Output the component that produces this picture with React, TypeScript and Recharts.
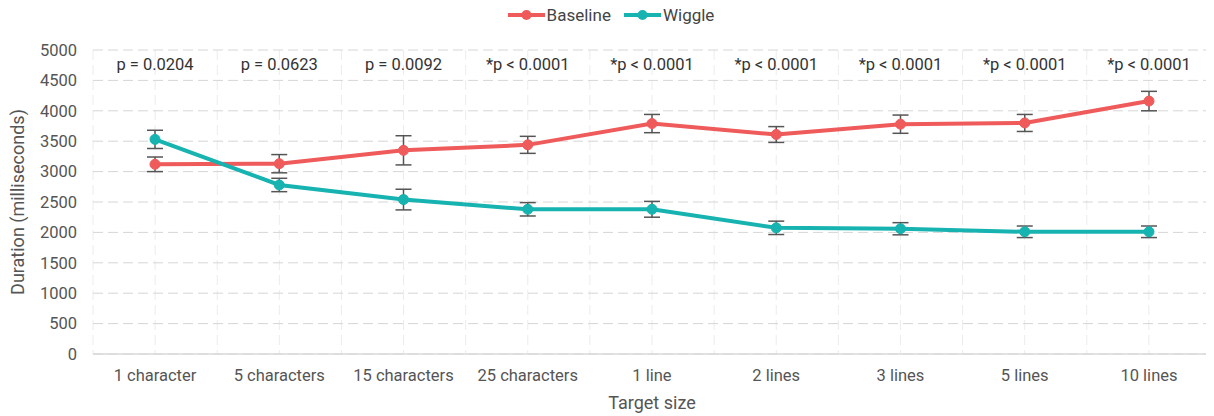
import React from 'react';
import { LineChart, Line, XAxis, YAxis, CartesianGrid, ErrorBar, Legend } from 'recharts';

const categories = ['1 character', '5 characters', '15 characters', '25 characters', '1 line', '2 lines', '3 lines', '5 lines', '10 lines'];
const baseline = [3120, 3130, 3350, 3440, 3790, 3610, 3780, 3800, 4160];
const baselineErr = [120, 150, 240, 140, 150, 130, 150, 140, 160];
const wiggle = [3530, 2780, 2540, 2380, 2380, 2075, 2060, 2010, 2010];
const wiggleErr = [150, 110, 170, 110, 130, 110, 100, 95, 95];
const pValues = ['p = 0.0204', 'p = 0.0623', 'p = 0.0092', '*p < 0.0001', '*p < 0.0001', '*p < 0.0001', '*p < 0.0001', '*p < 0.0001', '*p < 0.0001'];
const yTicks = [0, 500, 1000, 1500, 2000, 2500, 3000, 3500, 4000, 4500, 5000];

const RED = '#EF5A5A';
const TEAL = '#16B3B1';

const data = categories.map((c, i) => ({
  category: c,
  pValue: pValues[i],
  baseline: baseline[i],
  baselineErr: baselineErr[i],
  wiggle: wiggle[i],
  wiggleErr: wiggleErr[i],
}));

const PTick = (props: any) => {
  const { x, y, payload } = props;
  return (
    <text x={x} y={y} dy={12} textAnchor="middle" fill="#333" fontSize={16.5}>
      {payload.value}
    </text>
  );
};

const LegendContent = () => {
  const items = [
    { name: 'Baseline', color: RED },
    { name: 'Wiggle', color: TEAL },
  ];
  return (
    <div style={{ display: 'flex', justifyContent: 'center', gap: 13, height: 24, alignItems: 'center' }}>
      {items.map((it) => (
        <div key={it.name} style={{ display: 'flex', alignItems: 'center' }}>
          <svg width={37} height={12} style={{ marginRight: 2 }}>
            <line x1={0} y1={6} x2={37} y2={6} stroke={it.color} strokeWidth={4} />
            <circle cx={18.5} cy={6} r={5} fill={it.color} />
          </svg>
          <span style={{ color: '#444', fontSize: 17 }}>{it.name}</span>
        </div>
      ))}
    </div>
  );
};

export default function App() {
  return (
    <div style={{ fontFamily: 'Roboto, sans-serif' }}>
      <LineChart width={1206} height={408} data={data} margin={{ top: 18, right: 3, bottom: 7, left: 0 }}>
        <Legend verticalAlign="top" align="center" height={24} content={<LegendContent />} wrapperStyle={{ top: -5, left: 0, width: 1206 }} />
        <CartesianGrid
          horizontal={false}
          stroke="#ececec"
          strokeDasharray="10 5"
          verticalCoordinatesGenerator={({ offset }: any) =>
            Array.from({ length: 19 }, (_, k) => offset.left + (k * offset.width) / 18)
          }
        />
        <CartesianGrid vertical={false} stroke="#d6d6d6" strokeDasharray="10 5" />
        <XAxis
          dataKey="category"
          axisLine={{ stroke: '#d9d9d9', strokeWidth: 1.5 }}
          tickLine={false}
          tick={{ fill: '#555', fontSize: 16.5 }}
          tickMargin={9}
          height={55}
          padding={{ left: 62, right: 62 }}
          interval={0}
          label={{ value: 'Target size', position: 'insideBottom', offset: 0, fill: '#555', fontSize: 18 }}
        />
        <XAxis
          xAxisId="p"
          dataKey="pValue"
          orientation="top"
          mirror
          axisLine={false}
          tickLine={false}
          height={1}
          padding={{ left: 62, right: 62 }}
          tick={<PTick />}
          tickMargin={2}
          interval={0}
        />
        <YAxis
          domain={[0, 5000]}
          ticks={yTicks}
          interval={0}
          axisLine={false}
          tickLine={false}
          width={85}
          tick={{ fill: '#555', fontSize: 16.5 }}
          tickMargin={10}
          label={{ value: 'Duration (milliseconds)', angle: -90, position: 'insideLeft', offset: 10, style: { textAnchor: 'middle' }, fill: '#555', fontSize: 18 }}
        />
        <Line
          xAxisId="p"
          dataKey="baseline"
          stroke="none"
          dot={false}
          activeDot={false}
          legendType="none"
          isAnimationActive={false}
        />
        <Line
          dataKey="baseline"
          name="Baseline"
          stroke={RED}
          strokeWidth={4}
          dot={{ r: 5, fill: RED, stroke: RED, strokeWidth: 1 }}
          activeDot={false}
          isAnimationActive={false}
        >
          <ErrorBar dataKey="baselineErr" width={8} stroke="#555" strokeWidth={1.5} direction="y" />
        </Line>
        <Line
          dataKey="wiggle"
          name="Wiggle"
          stroke={TEAL}
          strokeWidth={4}
          dot={{ r: 5, fill: TEAL, stroke: TEAL, strokeWidth: 1 }}
          activeDot={false}
          isAnimationActive={false}
        >
          <ErrorBar dataKey="wiggleErr" width={8} stroke="#555" strokeWidth={1.5} direction="y" />
        </Line>
      </LineChart>
    </div>
  );
}
